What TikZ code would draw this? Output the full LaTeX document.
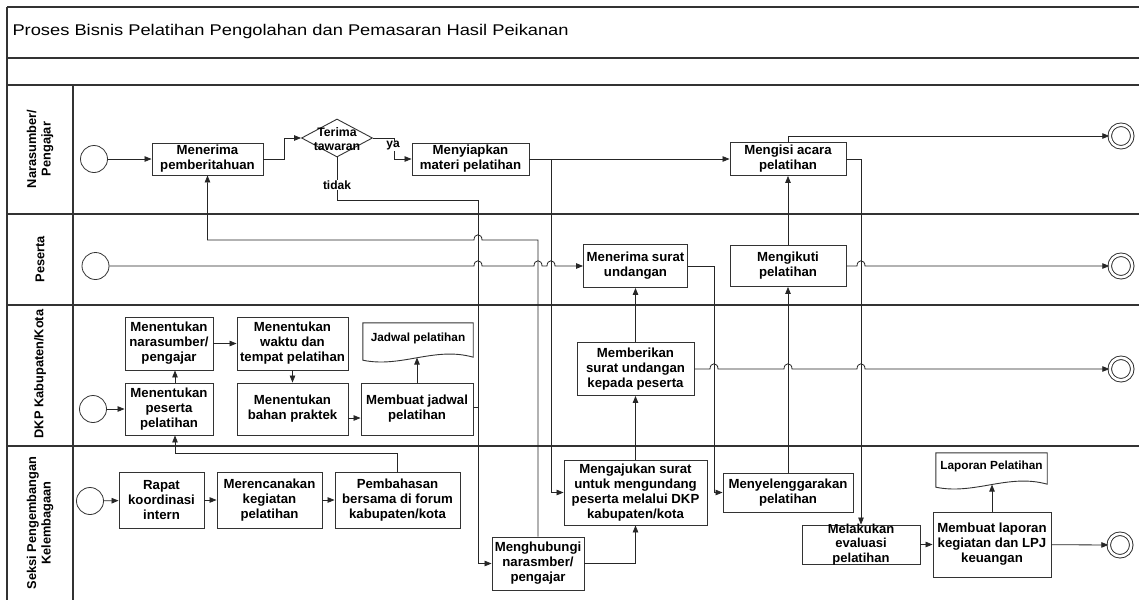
\documentclass[tikz,border=0pt]{standalone}
\usepackage{fontspec}
\setmainfont{Liberation Sans}
\newfontfamily\titlefont[FakeStretch=1.18]{Liberation Sans}
\usetikzlibrary{arrows.meta,shapes.geometric,calc}
\tikzset{
 lane/.style={line width=1.5pt, draw=black!80},
 proc/.style={draw=black!80, line width=0.9pt, fill=white, align=center, inner sep=1pt, font=\fontsize{13.2}{15}\selectfont\bfseries},
 boxonly/.style={draw=black!80, line width=0.9pt, inner sep=0pt},
 startev/.style={circle, draw=black!80, line width=0.8pt, minimum size=27pt, inner sep=0pt},
 endev/.style={circle, draw=black!85, line width=0.9pt, double=white, double distance=2.6pt, minimum size=22.5pt, inner sep=0pt},
 flow/.style={draw=black!85, line width=0.8pt, -{Triangle[length=7pt,width=5.5pt]}},
 plain/.style={draw=black!85, line width=0.8pt},
 hop/.style args={#1/#2}{insert path={-- ({#1-4},#2) .. controls ({#1-4},{#2-7}) and ({#1+4},{#2-7}) .. ({#1+4},#2)}},
 hopl/.style args={#1/#2}{insert path={-- ({#1+4},#2) .. controls ({#1+4},{#2-7}) and ({#1-4},{#2-7}) .. ({#1-4},#2)}},
 lanetext/.style={rotate=90, align=center, font=\fontsize{12.8}{14.5}\selectfont\bfseries},
 doctext/.style={font=\fontsize{11.8}{13}\selectfont\bfseries},
 docshape/.style={draw=black!80, line width=0.9pt, fill=white},
 lbl/.style={fill=white, inner sep=1pt, font=\fontsize{12}{14}\selectfont\bfseries},
}
\begin{document}
\begin{tikzpicture}[x=1pt,y=-1pt]
\useasboundingbox (0,0) rectangle (1139,600);
\fill[white] (0,0) rectangle (1139,600);
% frame and lanes
\draw[lane] (7,7) -- (1139,7);
\draw[lane] (7,58) -- (1139,58);
\draw[lane] (7,85) -- (1139,85);
\draw[lane] (7,214) -- (1139,214);
\draw[lane] (7,305) -- (1139,305);
\draw[lane] (7,446) -- (1139,446);
\draw[lane] (7,7) -- (7,600);
\draw[lane] (73,85) -- (73,600);
\node[anchor=west, font=\titlefont\fontsize{15.5}{18}\selectfont] (title) at (9,31) {Proses Bisnis Pelatihan Pengolahan dan Pemasaran Hasil Peikanan};
\node[lanetext] (h1) at (40,149) {Narasumber/\\Pengajar};
\node[lanetext] (h2) at (40,259) {Peserta};
\node[lanetext] (h3) at (40,374) {DKP Kabupaten/Kota};
\node[lanetext] (h4) at (40,523) {Seksi Pengembangan\\Kelembagaan};

% lane 1
\node[startev] (s1) at (94,159) {};
\node[proc, minimum width=111pt, minimum height=32pt] (n1) at (207.5,159) {Menerima\\pemberitahuan};
\node[diamond, draw=black!80, line width=0.9pt, fill=white, minimum width=71pt, minimum height=38pt, inner sep=0pt] (d1) at (337,138) {};
\node[align=center, font=\fontsize{12.3}{13.5}\selectfont\bfseries] (d1t) at (337,139) {Terima\\tawaran};
\node[proc, minimum width=117pt, minimum height=32pt] (n2) at (470.5,159) {Menyiapkan\\materi pelatihan};
\node[proc, minimum width=116pt, minimum height=33pt] (n3) at (788,159) {Mengisi acara\\pelatihan};
\node[endev] (e1) at (1121,136) {};

% lane 2
\node[startev] (s2) at (95.5,266) {};
\node[proc, minimum width=104pt, minimum height=43pt] (n4) at (635.5,266) {Menerima surat\\undangan};
\node[proc, minimum width=116pt, minimum height=41pt] (n5) at (788,266) {Mengikuti\\pelatihan};
\node[endev] (e2) at (1121,266) {};

% lane 3
\node[startev] (s3) at (93,409) {};
\node[proc, minimum width=88pt, minimum height=53pt] (n6) at (169,343.5) {Menentukan\\narasumber/\\pengajar};
\node[proc, minimum width=88pt, minimum height=52pt] (n7) at (169,409) {Menentukan\\peserta\\pelatihan};
\node[proc, minimum width=111pt, minimum height=53pt] (n8) at (292.5,343.5) {Menentukan\\waktu dan\\tempat pelatihan};
\node[proc, minimum width=111pt, minimum height=52pt] (n9) at (292.5,409) {Menentukan\\bahan praktek};
\node[proc, minimum width=112pt, minimum height=52pt] (n10) at (417,409) {Membuat jadwal\\pelatihan};
\node[minimum width=110pt, minimum height=37pt, inner sep=0pt] (doc1) at (418,341.5) {};
\draw[docshape] (doc1.north west) -- (doc1.north east) -- ($(doc1.south east)+(0,-3)$) .. controls ($(doc1.south east)+(-38.5,-14)$) and ($(doc1.south west)+(38.5,8)$) .. (doc1.south west) -- cycle;
\node[doctext] (doc1t) at (418,338) {Jadwal pelatihan};
\coordinate (doc1b) at ($(doc1.south)+(-1,-2.6)$);
\node[proc, minimum width=117pt, minimum height=53pt] (n11) at (635.5,369) {Memberikan\\surat undangan\\kepada peserta};
\node[endev] (e3) at (1121,369) {};

% lane 4
\node[startev] (s4) at (90,501) {};
\node[proc, minimum width=85pt, minimum height=56pt] (n12) at (161.5,500) {Rapat\\koordinasi\\intern};
\node[proc, minimum width=105pt, minimum height=56pt] (n13) at (269.5,500) {Merencanakan\\kegiatan\\pelatihan};
\node[proc, minimum width=125pt, minimum height=56pt] (n14) at (397.5,500) {Pembahasan\\bersama di forum\\kabupaten/kota};
\node[proc, minimum width=92pt, minimum height=53pt] (n15) at (538,563.5) {Menghubungi\\narasmber/\\pengajar};
\node[proc, minimum width=143pt, minimum height=65pt] (n16) at (635.5,492.5) {Mengajukan surat\\untuk mengundang\\peserta melalui DKP\\kabupaten/kota};
\node[proc, minimum width=130pt, minimum height=39pt] (n17) at (788,492.5) {Menyelenggarakan\\pelatihan};
\node[boxonly, fill=white, minimum width=118pt, minimum height=39pt] (n18) at (861,544.5) {};
\node[align=center, font=\fontsize{13}{14.5}\selectfont\bfseries] (n18t) at (861,544.5) {Melakukan\\evaluasi\\pelatihan};
\node[proc, minimum width=118pt, minimum height=65pt] (n19) at (992,544.5) {Membuat laporan\\kegiatan dan LPJ\\keuangan};
\node[minimum width=111pt, minimum height=34pt, inner sep=0pt] (doc2) at (991.5,470) {};
\draw[docshape] (doc2.north west) -- (doc2.north east) -- ($(doc2.south east)+(0,-3)$) .. controls ($(doc2.south east)+(-38.8,-14)$) and ($(doc2.south west)+(38.8,8)$) .. (doc2.south west) -- cycle;
\node[doctext] (doc2t) at (991.5,466) {Laporan Pelatihan};
\coordinate (doc2b) at ($(doc2.south)+(0.5,-2.6)$);
\node[endev] (e4) at (1120,545) {};

% connectors lane 1
\draw[flow] (s1) -- (n1);
\draw[flow] (n1.east) -- (284,159) |- (d1.west);
\draw[flow] (d1.east) -| (394,159) -- (n2.west);
\node[lbl] (ya) at (393,146) {ya};
\draw[flow] (d1.south) |- (478,200) |- (n15.west);
\node[lbl] (tidak) at (337,185) {tidak};
\draw[flow] (n2.east) -- (n3.west);
\coordinate (j1) at (551,159);
\draw[flow] (j1) |- (n16.west);
\draw[flow] (n15.north) -- (538,240) [hopl=478/240] -- (207.5,240) -- (n1.south);
\draw[flow] (n15.east) -| (n16.south);
\draw[flow] (n16) -- (n11);
\draw[flow] (n11) -- (n4);
\draw[flow] (s2) [hop=478/266] [hop=538/266] [hop=551/266] -- (n4.west);
\draw[flow] (n4.east) -- (714,266) |- (n17.west);
\draw[flow] (n17) -- (n5);
\draw[flow] (n5) -- (n3);
\draw[flow] (n3.north) -- (788,136) -- (e1.west);
\draw[flow] (n3.east) -| (n18.north);
\draw[flow] (n5.east) [hop=861/266] -- (e2.west);
\draw[flow] (n11.east) [hop=714/369] [hop=788/369] [hop=861/369] -- (e3.west);

% lane 3 connectors
\draw[flow] (s3) -- (n7);
\draw[flow] ($(n7.north)+(6,0)$) -- ($(n6.south)+(6,0)$);
\draw[flow] (n6) -- (n8);
\draw[flow] (n8) -- (n9);
\draw[flow] ($(n9.east)+(0,9)$) -- ($(n10.west)+(0,9)$);
\draw[flow] (n10.north) -- (doc1b);
\draw[plain] ($(n10.east)+(0,-2)$) -- (478,407);

% lane 4 connectors
\draw[flow] (s4) -- (n12);
\draw[flow] (n12) -- (n13);
\draw[flow] (n13) -- (n14);
\draw[flow] (n14.north) |- (175,453) -- ($(n7.south)+(6,0)$);
\draw[flow] (n18) -- (n19);
\draw[flow] (n19) -- (doc2b);
\draw[flow] (n19) -- (e4);
\end{tikzpicture}
\end{document}
